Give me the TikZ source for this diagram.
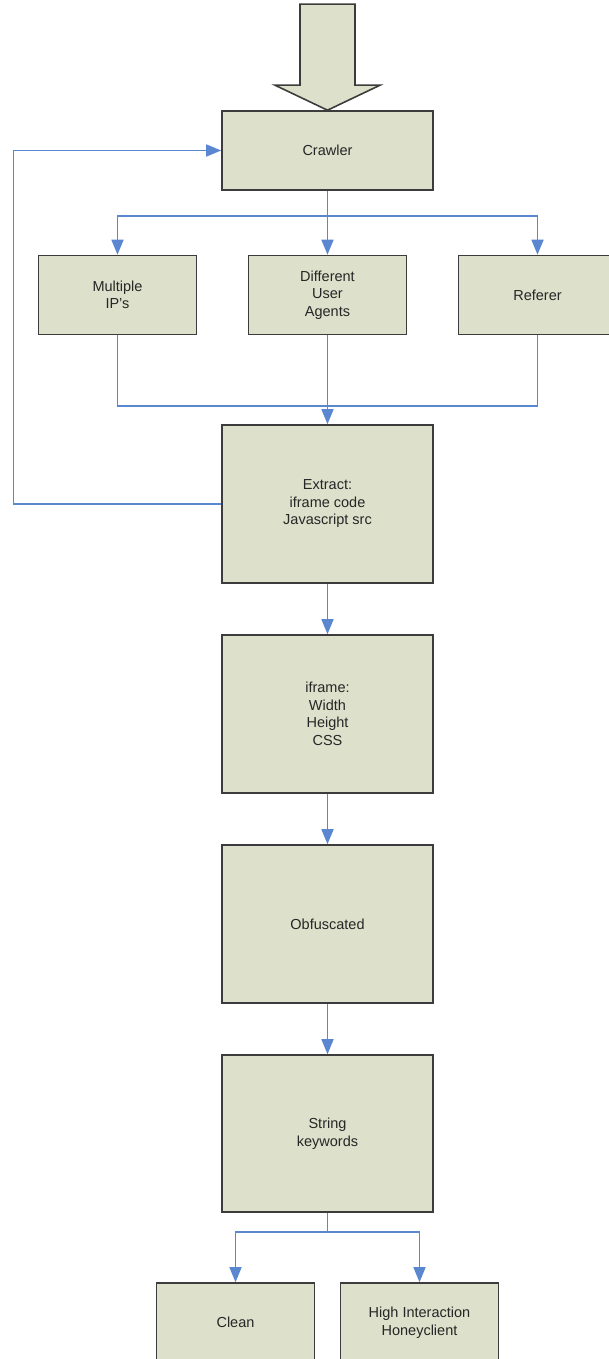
\documentclass[tikz,border=0pt]{standalone}
\usepackage{fontspec}
\setmainfont{Liberation Sans}
\usetikzlibrary{arrows.meta}
\definecolor{crgray}{HTML}{3C3C3C}
\definecolor{crfill}{HTML}{DDE0CB}
\definecolor{crblue}{HTML}{5A87CF}

\begin{document}
\begin{tikzpicture}[x=1pt, y=-1pt,
    stage/.style={draw=crgray, fill=crfill, line width=1.6pt, inner sep=2pt,
      align=center, text=black!85, font=\fontsize{14.5}{17.5}\selectfont},
    wide/.style={stage, minimum width=211pt},
    narrow/.style={stage, minimum width=158pt},
    wire/.style={crblue, line width=1.6pt},
    flow/.style={wire, -{Triangle[length=15pt, width=12pt]}}]
  % page = the 609x1359 frame; side/bottom boxes run past it like the source
  \useasboundingbox (0,0) rectangle (609,1359);

  % main column
  \node[wide, minimum height=79pt]  (crawler) at (327.5,150.5) {Crawler};
  \node[narrow, minimum height=79pt] (multi)   at (117.5,295) {Multiple\\IP's};
  \node[narrow, minimum height=79pt] (agents)  at (327.5,295) {Different\\User\\Agents};
  \node[narrow, minimum height=79pt] (referer) at (537.5,295) {Referer};
  \node[wide, minimum height=158pt] (extract) at (327.5,504) {Extract:\\iframe code\\Javascript src};
  \node[wide, minimum height=158pt] (iframe)  at (327.5,714) {iframe:\\Width\\Height\\CSS};
  \node[wide, minimum height=158pt] (obfus)   at (327.5,924) {Obfuscated};
  \node[wide, minimum height=157pt] (strkw)   at (327.5,1133.5) {String\\keywords};
  \node[narrow, minimum height=79pt] (clean)   at (235.5,1322.5) {Clean};
  \node[narrow, minimum height=79pt] (honey)   at (419.5,1322.5) {High Interaction\\Honeyclient};

  % big input arrow into the crawler
  \draw[crgray, fill=crfill, line width=1.6pt] (crawler.north) -- ++(-52.5,-25)
    -- ++(25,0) -- ++(0,-81) -- ++(55,0) -- ++(0,81) -- ++(25,0) -- cycle;

  \coordinate (fork) at (327.5,216);
  \coordinate (merge) at (327.5,406);
  \coordinate (leftrail) at (13.5,504);
  \coordinate (fork2) at (327.5,1232);

  \draw[wire] (crawler) -- (fork);
  \draw[flow] (fork) -| (multi.north);
  \draw[flow] (fork) -- (agents.north);
  \draw[flow] (fork) -| (referer.north);

  \draw[wire] (multi.south) |- (merge);
  \draw[wire] (referer.south) |- (merge);
  \draw[flow] (agents.south) -- (extract.north);

  % loop back to the crawler
  \draw[flow] (extract.west) -- (leftrail) |- (crawler.west);

  \draw[flow] (extract) -- (iframe);
  \draw[flow] (iframe) -- (obfus);
  \draw[flow] (obfus) -- (strkw);

  \draw[wire] (strkw) -- (fork2);
  \draw[flow] (fork2) -| (clean.north);
  \draw[flow] (fork2) -| (honey.north);
\end{tikzpicture}
\end{document}
